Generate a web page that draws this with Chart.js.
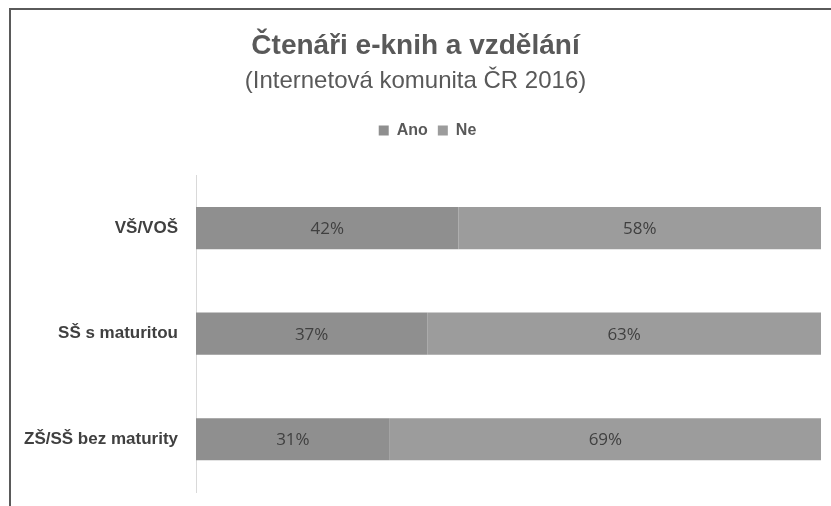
<!DOCTYPE html>
<html>
<head>
<meta charset="utf-8">
<script src="https://cdn.jsdelivr.net/npm/chart.js@4"></script>
<style>
  html, body { margin: 0; padding: 0; background: #fff; }
  #wrap { position: relative; width: 831px; height: 506px; }
  #frame { position: absolute; left: 9px; top: 8px; right: 0; bottom: 0;
           border-top: 2px solid #5a5a5a; border-left: 2px solid #5a5a5a; }
  canvas { position: absolute; left: 0; top: 0; }
</style>
</head>
<body>
<div id="wrap">
  <div id="frame"></div>
  <canvas id="myChart" width="831" height="506"></canvas>
</div>
<script>
  const categories = ["VŠ/VOŠ", "SŠ s maturitou", "ZŠ/SŠ bez maturity"];
  const seriesNames = ["Ano", "Ne"];
  const ano = [42, 37, 31];
  const ne = [58, 63, 69];

  const sans = "'Liberation Sans', Arial, sans-serif";

  // draws "42%" etc. in the middle of each bar
  const barLabels = {
    id: 'barLabels',
    afterDatasetsDraw(chart) {
      const ctx = chart.ctx;
      ctx.save();
      ctx.font = "17px 'Open Sans', sans-serif";
      ctx.fillStyle = "#404040";
      ctx.textAlign = "center";
      ctx.textBaseline = "middle";
      chart.data.datasets.forEach(function(ds, i) {
        chart.getDatasetMeta(i).data.forEach(function(bar, j) {
          const c = bar.getCenterPoint();
          ctx.fillText(ds.data[j] + "%", c.x, c.y + 1);
        });
      });
      ctx.restore();
    }
  };

  // extra space under the legend, and nudge it a bit to the right
  const legendGap = {
    id: 'legendGap',
    beforeInit(chart) {
      const fit = chart.legend.fit;
      chart.legend.fit = function() {
        fit.bind(chart.legend)();
        this.height += 27;
      };
    },
    afterLayout(chart) {
      chart.legend.left += 12;
      chart.legend.right += 12;
    }
  };

  const data = {
    labels: categories,
    datasets: [{
      label: seriesNames[0],
      data: ano,
      backgroundColor: "#8f8f8f",
      categoryPercentage: 0.4,
      barPercentage: 1
    }, {
      label: seriesNames[1],
      data: ne,
      backgroundColor: "#9c9c9c",
      categoryPercentage: 0.4,
      barPercentage: 1
    }]
  };

  const config = {
    type: 'bar',
    data: data,
    plugins: [barLabels, legendGap],
    options: {
      indexAxis: 'y',
      responsive: false,
      animation: false,
      layout: { padding: { top: 29, left: 10, right: 10, bottom: 14 } },
      plugins: {
        tooltip: { enabled: false },
        title: {
          display: true,
          text: "Čtenáři e-knih a vzdělání",
          color: "#595959",
          font: { family: sans, size: 28, weight: 'bold' },
          padding: { top: 0, bottom: 4 }
        },
        subtitle: {
          display: true,
          text: "(Internetová komunita ČR 2016)",
          color: "#595959",
          font: { family: sans, size: 24, weight: 'normal' },
          padding: { top: 0, bottom: 17 }
        },
        legend: {
          position: 'top',
          labels: {
            boxWidth: 10,
            boxHeight: 10,
            padding: 10,
            color: "#595959",
            font: { family: sans, size: 16, weight: 'bold' }
          }
        }
      },
      scales: {
        x: {
          stacked: true,
          min: 0,
          max: 100,
          display: false
        },
        y: {
          stacked: true,
          afterFit(scale) {
            scale.width = 186;
            scale.paddingTop = 0;
            scale.paddingBottom = 0;
          },
          grid: { display: false, drawTicks: false },
          border: { display: true, color: "#d9d9d9", width: 1 },
          ticks: {
            color: "#404040",
            padding: 18,
            font: { family: sans, size: 17, weight: 'bold' }
          }
        }
      }
    }
  };

  var myChart = new Chart(document.getElementById('myChart'), config);
</script>
</body>
</html>
